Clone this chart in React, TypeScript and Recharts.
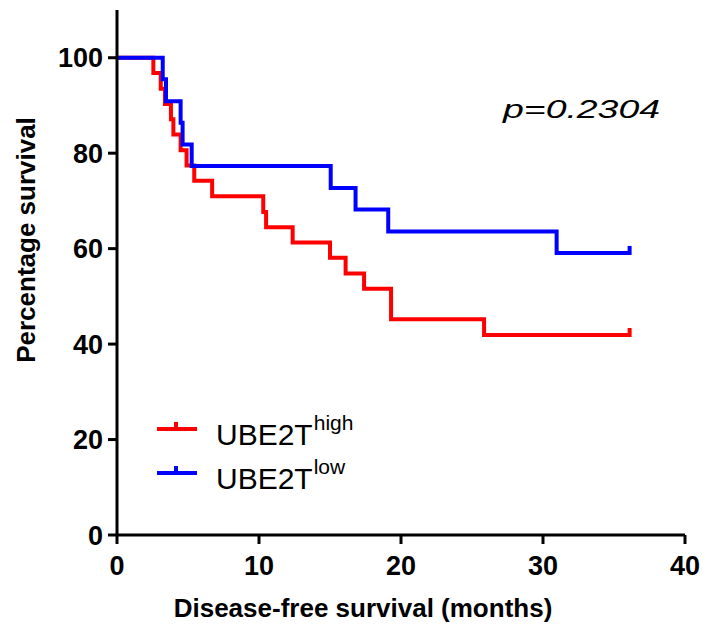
import React from 'react';
import { LineChart, Line, XAxis, YAxis, Legend, Label } from 'recharts';

// Kaplan-Meier step points (months, percent survival)
const highTimes = [0, 2.56, 3.08, 3.38, 3.8, 3.97, 4.48, 4.9, 5.44, 6.7, 10.3, 10.5, 12.37, 15.0, 16.1, 17.4, 19.3, 25.85, 36.1];
const highSurv = [100, 96.8, 93.5, 90.3, 87.1, 83.9, 80.6, 77.4, 74.2, 71.0, 67.7, 64.5, 61.3, 58.1, 54.8, 51.6, 45.2, 41.9, 41.9];
const lowTimes = [0, 3.22, 3.45, 4.48, 4.62, 5.26, 15.05, 16.8, 19.1, 30.96, 36.1];
const lowSurv = [100, 95.5, 90.9, 86.4, 81.8, 77.3, 72.7, 68.2, 63.6, 59.1, 59.1];

const xTicks = [0, 10, 20, 30, 40];
const yTicks = [0, 20, 40, 60, 80, 100];

const seriesBase = 'UBE2T';
const seriesSup = ['high', 'low'];
const seriesColors = ['#FF0000', '#0000FF'];
const pValueText = 'p=0.2304';
const xTitle = 'Disease-free survival (months)';
const yTitle = 'Percentage survival';

const FONT = '"Liberation Sans", Arial, Helvetica, sans-serif';

const highData = highTimes.map((t, i) => ({ t, s: highSurv[i], censored: i === highTimes.length - 1 }));
const lowData = lowTimes.map((t, i) => ({ t, s: lowSurv[i], censored: i === lowTimes.length - 1 }));

const makeDot = (color: string) => (props: any) => {
  const { cx, cy, payload, index } = props;
  if (!payload || !payload.censored) return <g key={`d-${index}`} />;
  return (
    <line
      key={`d-${index}`}
      x1={cx}
      x2={cx}
      y1={cy + 2}
      y2={cy - 7}
      stroke={color}
      strokeWidth={4}
    />
  );
};

const renderLegend = () => (
  <svg width={230} height={95} style={{ display: 'block', overflow: 'visible' }}>
    {seriesSup.map((sup, i) => {
      const y = 24 + i * 44;
      return (
        <g key={sup}>
          <line x1={7} x2={47} y1={y} y2={y} stroke={seriesColors[i]} strokeWidth={4} />
          <line x1={26} x2={26} y1={y + 1} y2={y - 7} stroke={seriesColors[i]} strokeWidth={4} />
          <text x={66} y={y + 16} fontSize={30} fontFamily={FONT} fill="#000">
            {seriesBase}
            <tspan fontSize={21} dy={-15} dx={1}>{sup}</tspan>
          </text>
        </g>
      );
    })}
  </svg>
);

export default function App() {
  return (
    <div style={{ position: 'absolute', left: 0, top: 0, width: 707, height: 626, background: '#fff' }}>
      <LineChart
        width={707}
        height={626}
        margin={{ top: 10, right: 22, bottom: 0, left: 0 }}
      >
        <XAxis
          type="number"
          dataKey="t"
          domain={[0, 40]}
          ticks={xTicks}
          height={91}
          axisLine={{ stroke: '#000', strokeWidth: 3 }}
          tickLine={{ stroke: '#000', strokeWidth: 3 }}
          tickSize={9}
          tickMargin={12}
          tick={{ fill: '#000', fontSize: 27, fontWeight: 'bold', fontFamily: FONT }}
          allowDecimals={false}
        >
          <Label
            content={() => (
              <text x={363} y={617} textAnchor="middle" fontSize={26} fontWeight="bold" fontFamily={FONT} fill="#000">
                {xTitle}
              </text>
            )}
          />
        </XAxis>
        <YAxis
          type="number"
          domain={[0, 110]}
          ticks={yTicks}
          width={117}
          axisLine={{ stroke: '#000', strokeWidth: 3 }}
          tickLine={{ stroke: '#000', strokeWidth: 3 }}
          tickSize={9}
          tickMargin={5}
          tick={{ fill: '#000', fontSize: 27, fontWeight: 'bold', fontFamily: FONT }}
        >
          <Label
            content={() => (
              <text
                x={35}
                y={240}
                transform="rotate(-90 35 240)"
                textAnchor="middle"
                fontSize={26}
                fontWeight="bold"
                fontFamily={FONT}
                fill="#000"
              >
                {yTitle}
              </text>
            )}
          />
        </YAxis>
        <Line
          data={highData}
          dataKey="s"
          type="stepAfter"
          stroke={seriesColors[0]}
          strokeWidth={4}
          dot={makeDot(seriesColors[0])}
          activeDot={false}
          isAnimationActive={false}
          name={seriesBase + seriesSup[0]}
        />
        <Line
          data={lowData}
          dataKey="s"
          type="stepAfter"
          stroke={seriesColors[1]}
          strokeWidth={4}
          dot={makeDot(seriesColors[1])}
          activeDot={false}
          isAnimationActive={false}
          name={seriesBase + seriesSup[1]}
        />
        <Legend
          layout="vertical"
          align="center"
          verticalAlign="middle"
          wrapperStyle={{ left: 150, top: 405, width: 230, height: 95 }}
          content={renderLegend}
        />
      </LineChart>
      <svg
        width={707}
        height={626}
        style={{ position: 'absolute', left: 0, top: 0, pointerEvents: 'none' }}
      >
        <text
          x={503}
          y={118}
          fontSize={25}
          fontStyle="italic"
          fontFamily={FONT}
          fill="#000"
          textLength={157}
          lengthAdjust="spacingAndGlyphs"
        >
          {pValueText}
        </text>
      </svg>
    </div>
  );
}
